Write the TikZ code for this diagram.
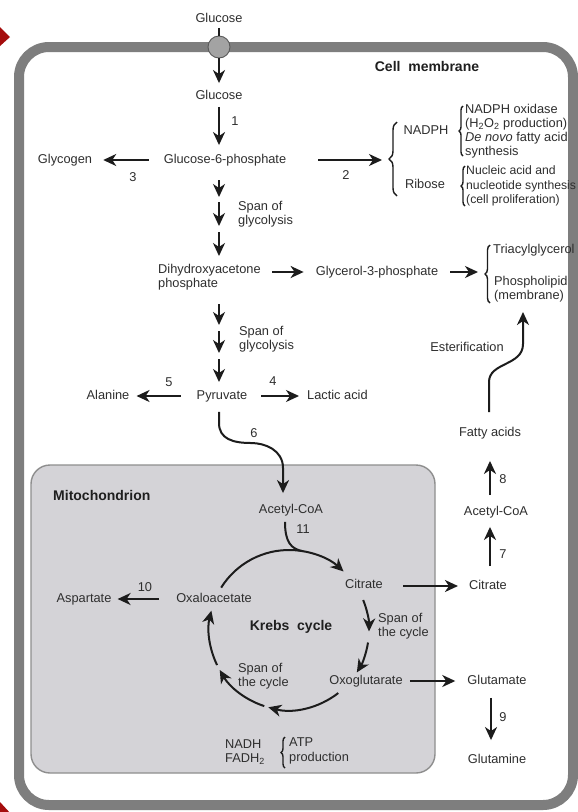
\documentclass[tikz,border=0pt]{standalone}
\usepackage{fontspec}
\setmainfont{Liberation Sans}
\usetikzlibrary{arrows.meta,decorations.pathreplacing,calc}
\definecolor{txt}{HTML}{2E2E2E}
\definecolor{arrc}{HTML}{1C1C1C}
\definecolor{memb}{HTML}{7E7E7E}
\definecolor{mitofill}{HTML}{D4D3D7}
\definecolor{mitoline}{HTML}{8E8E8E}
\definecolor{navred}{HTML}{A50D0D}
\begin{document}
\begin{tikzpicture}[x=1pt,y=-1pt,
  lbl/.style={text=txt,font=\fontsize{12.8}{14.2}\selectfont,inner sep=0pt,text height=9pt,text depth=2.5pt},
  mlbl/.style={text=txt,font=\fontsize{12.8}{14.2}\selectfont,inner sep=0pt,align=left,anchor=west},
  ttl/.style={text=black!88,font=\fontsize{14}{16}\selectfont\bfseries,inner sep=0pt},
  arr/.style={draw=arrc,line width=2pt,-{Stealth[length=13pt,width=12pt,inset=4pt]}},
  plain/.style={draw=arrc,line width=2pt},
  brc/.style={draw=arrc,line width=1.4pt,decorate,decoration={brace,amplitude=#1}},
]
\useasboundingbox (0,0) rectangle (578,812);
\fill[white] (0,0) rectangle (578,812);
% navigation marks
\fill[navred] (0,27) -- (10,37) -- (0,46) -- cycle;
\fill[navred] (0,802) -- (11,814) -- (0,826) -- cycle;
% cell membrane
\draw[memb,line width=10pt,rounded corners=30pt] (19,47) rectangle (573,805);
% mitochondrion
\draw[mitoline,fill=mitofill,line width=1.4pt,rounded corners=19pt] (31,465) rectangle (435,773);
% channel
\node[lbl] (glcout) at (219,19) {Glucose};
\node[circle,draw=black!65,fill=black!36,line width=0.9pt,minimum size=22pt,inner sep=0pt] (chan) at (219,47) {};
\draw[arrc,line width=1.2pt] ($(glcout.south)+(0,3)$) -- (chan.north);

\node[ttl] (cellm) at (427,66) {Cell\ \ membrane};
\node[ttl,anchor=west] (mito) at (53,495) {Mitochondrion};
\node[ttl] (krebs) at (291,627) {Krebs\ \ cycle};

% main column
\node[lbl] (glc) at (219,96) {Glucose};
\node[lbl] (g6p) at (225,160) {Glucose-6-phosphate};
\node[lbl] (glyc) at (65,160) {Glycogen};
\node[mlbl] (dhap) at (158,277) {Dihydroxyacetone\\phosphate};
\node[lbl] (g3p) at (377,272) {Glycerol-3-phosphate};
\node[lbl] (pyr) at (222,396) {Pyruvate};
\node[lbl] (ala) at (108,396) {Alanine};
\node[lbl,anchor=west] (lac) at (307,396) {Lactic acid};
\node[mlbl] (span1) at (238,214) {Span of\\glycolysis};
\node[mlbl] (span2) at (239,339) {Span of\\glycolysis};

% NADPH / Ribose
\node[lbl] (nadph) at (426,131) {NADPH};
\node[lbl] (ribose) at (425,185) {Ribose};
\node[mlbl] (nadphuse) at (465,131) {NADPH oxidase\\(H\textsubscript{2}O\textsubscript{2} production)\\\textit{De novo} fatty acid\\synthesis};
\node[mlbl,font=\fontsize{12.2}{14.2}\selectfont] (riboseuse) at (466,186) {Nucleic acid and\\nucleotide synthesis\\(cell proliferation)};

% lipids
\node[lbl,anchor=west] (tag) at (493,250) {Triacylglycerol};
\node[mlbl] (pl) at (494,289) {Phospholipid\\(membrane)};
\node[lbl] (ester) at (467,348) {Esterification};
\node[lbl] (fa) at (490,433) {Fatty acids};
\node[lbl] (acoaout) at (496,512) {Acetyl-CoA};
\node[lbl] (citout) at (488,586) {Citrate};
\node[lbl] (glu) at (497,681) {Glutamate};
\node[lbl] (gln) at (497,760) {Glutamine};

% mitochondrion contents
\node[lbl] (acoa) at (291,510) {Acetyl-CoA};
\node[lbl] (cit) at (364,585) {Citrate};
\node[lbl] (oaa) at (214,599) {Oxaloacetate};
\node[lbl] (asp) at (84,599) {Aspartate};
\node[lbl] (oxo) at (366,681) {Oxoglutarate};
\node[mlbl] (spanc1) at (378,626) {Span of\\the cycle};
\node[mlbl] (spanc2) at (238,676) {Span of\\the cycle};
\node[mlbl] (nadh) at (225,752) {NADH\\FADH\textsubscript{2}};
\node[mlbl] (atp) at (289,751) {ATP\\production};

% numbers
\node[lbl] (n1) at (235,122) {1};
\node[lbl] (n2) at (346,176) {2};
\node[lbl] (n3) at (133,178) {3};
\node[lbl] (n4) at (273,382) {4};
\node[lbl] (n5) at (169,383) {5};
\node[lbl] (n6) at (254,434) {6};
\node[lbl] (n7) at (503,555) {7};
\node[lbl] (n8) at (503,480) {8};
\node[lbl] (n9) at (503,718) {9};
\node[lbl] (n10) at (145,588) {10};
\node[lbl] (n11) at (303,530) {11};

% braces
\coordinate (bbT) at (397,122);
\coordinate (bbB) at (397,196);
\draw[brc=8pt] (bbB) -- (bbT);
\draw[brc=4pt] (463,156) -- (463,106);
\draw[brc=4pt] (465,206) -- (465,166);
\coordinate (tbT) at (490,245);
\coordinate (tbB) at (490,303);
\draw[brc=5pt] (tbB) -- (tbT);
\draw[brc=4pt] (285,768) -- (285,737);

% arrows
\draw[arr] (chan.south) -- ($(glc.north)+(0,-7)$);
\draw[arr] ($(glc.south)+(0,5)$) -- ($(glc.south |- g6p.north)+(0,-9)$);
\draw[arr] ($(g6p.west)+(-15,0)$) -- ($(glyc.east)+(11,0)$);
\draw[arr] ($(g6p.east)+(32,0)$) -- ($(bbB |- g6p)+(-15,0)$);
\foreach \a/\b in {180/197,202/226,232/256,304/325,331/353,359/382}
  \draw[arr] (219,\a) -- (219,\b);
\coordinate (dhapout) at (272,272);
\draw[arr] (dhapout) -- ($(g3p.west)+(-12,0)$);
\draw[arr] ($(g3p.east)+(12,0)$) -- ($(tbB |- g3p)+(-12,0)$);
\draw[arr] ($(pyr.west)+(-16,0)$) -- ($(ala.east)+(7,0)$);
\draw[arr] ($(pyr.east)+(14,0)$) -- ($(lac.west)+(-8,0)$);
\draw[arr] ($(pyr.south)+(-3,10)$) -- (219,423) .. controls (219,439) and (233,443) .. (251,443)
  .. controls (265,443) and (283,450) .. (283,468) -- ($(acoa.north)+(-8,-11)$);
\draw[arr] ($(fa.north)+(-1,-15)$) -- (489,382) .. controls (489,362) and (523,366) .. (523,344) -- ($(tbB)+(33,9)$);
\draw[arr] ($(acoaout.north)+(-6,-11)$) -- ($(fa.south)+(0,22)$);
\draw[arr] ($(citout.north)+(2,-14)$) -- ($(acoaout.south)+(-6,9)$);
\draw[arr] ($(cit.east)+(20,1)$) -- ($(citout.west)+(-11,0)$);
\draw[arr] ($(oaa.west)+(-17,0)$) -- ($(asp.east)+(6,0)$);
\draw[arr] ($(oxo.east)+(7,0)$) -- ($(glu.west)+(-12,0)$);
\draw[arr] ($(glu.south)+(-6,11)$) -- ($(gln.north)+(-6,-14)$);

% Krebs cycle
\coordinate (K) at (289,630);
\draw[plain] ($(acoa.south)+(-6,6)$) .. controls (285,542) and (291,549) .. ($(K)+(-80:80)$);
\draw[arr] ($(K)+(-148:80)$) arc[start angle=-148, end angle=-47, radius=80];
\draw[arr] ($(K)+(-22:80)$) arc[start angle=-22, end angle=1, radius=80];
\draw[arr] ($(K)+(9:80)$) arc[start angle=9, end angle=32, radius=80];
\draw[arr] ($(K)+(52:80)$) arc[start angle=52, end angle=105, radius=80];
\draw[arr] ($(K)+(108:80)$) arc[start angle=108, end angle=150, radius=80];
\draw[arr] ($(K)+(154:80)$) arc[start angle=154, end angle=194, radius=80];
\end{tikzpicture}
\end{document}
